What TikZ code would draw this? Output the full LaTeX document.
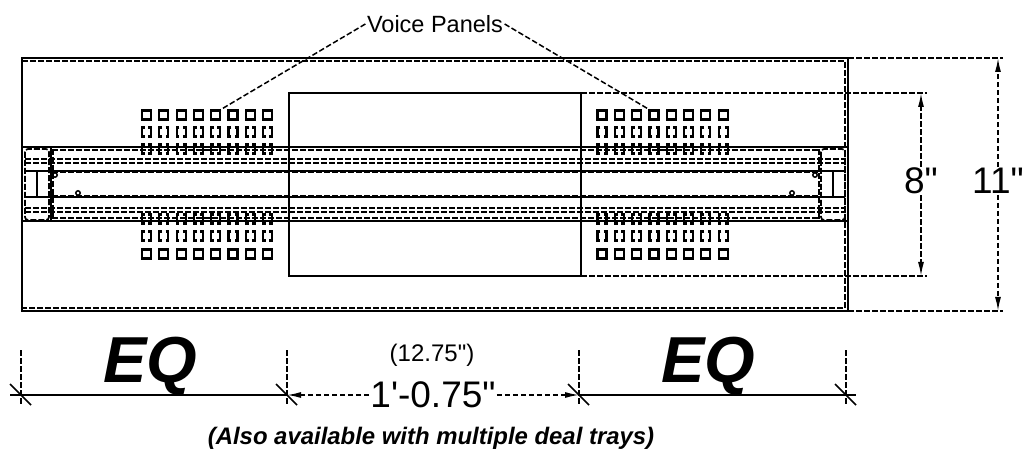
\documentclass[tikz,border=0pt]{standalone}
\usepackage{fontspec}
\setmainfont{Liberation Sans}[Ligatures=TeXOff]
\usetikzlibrary{arrows.meta}
\tikzset{
  solidline/.style={line width=2pt},
  hiddenline/.style={line width=1.7pt, dash pattern=on 6pt off 2pt},
  dimline/.style={line width=1.5pt, dash pattern=on 5.5pt off 2.5pt},
  dimtip/.style={-{Latex[length=14pt,width=6pt]}},
  panelhole/.style={line width=2.2pt},
  tick/.style={line width=1.7pt},
  bigtext/.style={font=\fontsize{37}{37}\selectfont, fill=white, inner sep=1pt},
  eqtext/.style={font=\fontsize{65}{65}\selectfont\bfseries\itshape, inner sep=0pt}
}
\begin{document}
\begin{tikzpicture}[x=1pt,y=-1pt]
\useasboundingbox (0,0) rectangle (1026,457);

% body
\draw[solidline] (22,58) rectangle (848,311);
\draw[hiddenline] (22,61) -- (845,61) -- (845,308) -- (22,308);

% centre cut-out
\draw[solidline] (289,93) rectangle (581,276);

% tray
\draw[solidline] (22,147) -- (848,147);
\draw[solidline] (22,221) -- (848,221);
\draw[solidline] (25,171) -- (845,171);
\draw[solidline] (25,197) -- (845,197);
\draw[hiddenline] (52,150) -- (819,150);
\draw[hiddenline] (25,159) -- (845,159);
\draw[hiddenline] (25,163) -- (845,163);
\draw[hiddenline] (52,172) -- (819,172);
\draw[hiddenline] (52,196) -- (819,196);
\draw[hiddenline] (25,208) -- (845,208);
\draw[hiddenline] (25,212) -- (845,212);
\draw[hiddenline] (52,218) -- (819,218);

% tray ends
\draw[hiddenline, rounded corners=3pt] (25,149) rectangle (49,220);
\draw[solidline] (51,147) -- (51,221);
\draw[hiddenline] (53,149) -- (53,220);
\draw[solidline] (37,171) -- (37,197);
\draw[hiddenline, rounded corners=3pt] (821,149) rectangle (845,220);
\draw[hiddenline] (819,149) -- (819,220);
\draw[solidline] (833,171) -- (833,197);

% screw holes
\draw[line width=1.5pt] (55,175) circle (2.2);
\draw[line width=1.5pt] (78,193) circle (2.2);
\draw[line width=1.5pt] (815,175) circle (2.2);
\draw[line width=1.5pt] (792,193) circle (2.2);

% voice panels
\foreach \x in {0,...,7} {
  \foreach \xs in {146.5,602} {
    \draw[panelhole] ({\xs+17.3*\x-4.5},110.5) rectangle ({\xs+17.3*\x+4.5},119.5);
    \draw[panelhole] ({\xs+17.3*\x-4.5},249.5) rectangle ({\xs+17.3*\x+4.5},258.5);
    \foreach \y in {132,149,219,236} {
      \draw[panelhole] ({\xs+17.3*\x-1.7},\y-4.5) -- ({\xs+17.3*\x-4.5},\y-4.5) -- ({\xs+17.3*\x-4.5},\y+4.5) -- ({\xs+17.3*\x-1.7},\y+4.5);
      \draw[panelhole] ({\xs+17.3*\x+1.7},\y-4.5) -- ({\xs+17.3*\x+4.5},\y-4.5) -- ({\xs+17.3*\x+4.5},\y+4.5) -- ({\xs+17.3*\x+1.7},\y+4.5);
    }
  }
}

% leader lines
\node[font=\fontsize{23.5}{23.5}\selectfont, inner sep=1.5pt] (voice) at (435,24) {Voice Panels};
\coordinate (panelL) at (220,110);
\coordinate (panelR) at (650,110);
\draw[dimline] (voice.west) -- (panelL);
\draw[dimline] (voice.east) -- (panelR);

% height dimensions
\draw[dimline] (581,93) -- (927,93);
\draw[dimline] (581,276) -- (927,276);
\draw[dimline] (848,58) -- (1003,58);
\draw[dimline] (848,311) -- (1003,311);

\coordinate (top8) at (921,93);
\coordinate (bot8) at (921,276);
\coordinate (top11) at (998,58);
\coordinate (bot11) at (998,311);
\node[bigtext] (eight) at (921,181) {8"};
\node[bigtext] (eleven) at (998,181) {11"};
\draw[dimline, dimtip] (eight) -- (top8);
\draw[dimline, dimtip] (eight) -- (bot8);
\draw[dimline, dimtip] (eleven) -- (top11);
\draw[dimline, dimtip] (eleven) -- (bot11);

% width dimensions
\foreach \x in {21,287,579,846} {
  \draw[dimline] (\x,350) -- (\x,405);
  \draw[tick] (\x-11,384) -- (\x+10,405);
}
\coordinate (w1) at (21,395);
\coordinate (w2) at (287,395);
\coordinate (w3) at (579,395);
\coordinate (w4) at (846,395);
\draw[solidline] (10,395) -- (w2);
\draw[solidline] (w3) -- (856,395);
\node[bigtext] (span) at (433,395) {1'-0.75"};
\draw[dimline, dimtip] (span) -- (w2);
\draw[dimline, dimtip] (span) -- (w3);

\node[font=\fontsize{24}{24}\selectfont, inner sep=0pt] (inch) at (432,355) {(12.75")};
\node[eqtext] (eqL) at (150,366) {EQ};
\node[eqtext] (eqR) at (708,366) {EQ};
\node[font=\fontsize{23.9}{23.9}\selectfont\bfseries\itshape, inner sep=0pt] (note) at (431,438) {(Also available with multiple deal trays)};
\end{tikzpicture}
\end{document}
